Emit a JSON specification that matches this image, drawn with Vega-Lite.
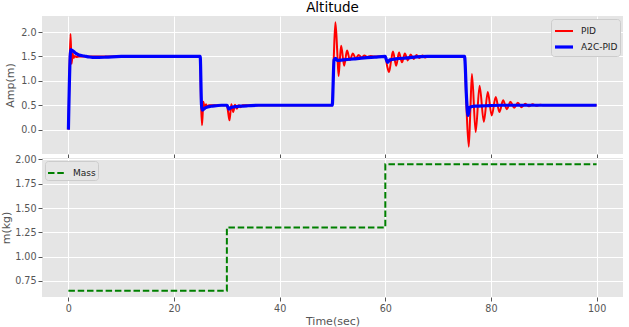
{
  "$schema": "https://vega.github.io/schema/vega-lite/v6.json",
  "background": "white",
  "padding": {"left": 0, "top": 0, "right": 6, "bottom": 0},
  "spacing": 4,
  "bounds": "flush",
  "config": {
    "font": "DejaVu Sans",
    "view": {"fill": "#E5E5E5", "stroke": null},
    "axis": {
      "domain": false,
      "grid": true,
      "gridColor": "#FFFFFF",
      "gridWidth": 1,
      "tickColor": "#555555",
      "tickSize": 4,
      "labelPadding": 2,
      "labelFont": "DejaVu Sans",
      "labelFontSize": 9.6,
      "labelColor": "#555555",
      "titleFont": "DejaVu Sans",
      "titleFontSize": 11,
      "titleFontWeight": "normal",
      "titleColor": "#555555"
    },
    "legend": {
      "title": null,
      "fillColor": "#E5E5E5",
      "strokeColor": "#CCCCCC",
      "cornerRadius": 3,
      "padding": 2,
      "offset": 3,
      "labelFont": "DejaVu Sans",
      "labelFontSize": 9,
      "labelColor": "#222222",
      "symbolType": "stroke",
      "symbolSize": 324,
      "labelOffset": 6,
      "rowPadding": -7
    },
    "title": {"font": "DejaVu Sans", "fontSize": 13.5, "fontWeight": "normal", "color": "#000000", "offset": 2}
  },
  "vconcat": [
    {
      "width": 581,
      "height": 138,
      "title": {"text": "Altitude", "anchor": "middle"},
      "data": {
        "values": [
          {"t": 0, "v": 0, "series": "PID"},
          {"t": 0.2, "v": 1.2, "series": "PID"},
          {"t": 0.4, "v": 1.96, "series": "PID"},
          {"t": 0.6, "v": 1.35, "series": "PID"},
          {"t": 0.8, "v": 1.56, "series": "PID"},
          {"t": 1.0, "v": 1.47, "series": "PID"},
          {"t": 1.2, "v": 1.51, "series": "PID"},
          {"t": 1.5, "v": 1.49, "series": "PID"},
          {"t": 2, "v": 1.5, "series": "PID"},
          {"t": 24.95, "v": 1.5, "series": "PID"},
          {"t": 25.1, "v": 0.6, "series": "PID"},
          {"t": 25.3, "v": 0.09, "series": "PID"},
          {"t": 25.55, "v": 0.57, "series": "PID"},
          {"t": 25.8, "v": 0.42, "series": "PID"},
          {"t": 26.05, "v": 0.52, "series": "PID"},
          {"t": 26.3, "v": 0.47, "series": "PID"},
          {"t": 26.6, "v": 0.5, "series": "PID"},
          {"t": 30.0, "v": 0.5, "series": "PID"},
          {"t": 30.25, "v": 0.35, "series": "PID"},
          {"t": 30.5, "v": 0.19, "series": "PID"},
          {"t": 30.85, "v": 0.52, "series": "PID"},
          {"t": 31.2, "v": 0.36, "series": "PID"},
          {"t": 31.55, "v": 0.51, "series": "PID"},
          {"t": 31.9, "v": 0.43, "series": "PID"},
          {"t": 32.25, "v": 0.5, "series": "PID"},
          {"t": 32.6, "v": 0.46, "series": "PID"},
          {"t": 33, "v": 0.5, "series": "PID"},
          {"t": 49.95, "v": 0.5, "series": "PID"},
          {"t": 50.25, "v": 1.5, "series": "PID"},
          {"t": 50.55, "v": 2.2, "series": "PID"},
          {"t": 50.9, "v": 1.6, "series": "PID"},
          {"t": 51.15, "v": 1.1, "series": "PID"},
          {"t": 51.4, "v": 1.45, "series": "PID"},
          {"t": 51.65, "v": 1.72, "series": "PID"},
          {"t": 52.2, "v": 1.31, "series": "PID"},
          {"t": 52.75, "v": 1.62, "series": "PID"},
          {"t": 53.3, "v": 1.43, "series": "PID"},
          {"t": 53.85, "v": 1.56, "series": "PID"},
          {"t": 54.4, "v": 1.46, "series": "PID"},
          {"t": 54.95, "v": 1.53, "series": "PID"},
          {"t": 55.5, "v": 1.48, "series": "PID"},
          {"t": 56.05, "v": 1.52, "series": "PID"},
          {"t": 56.6, "v": 1.49, "series": "PID"},
          {"t": 57.2, "v": 1.51, "series": "PID"},
          {"t": 57.8, "v": 1.5, "series": "PID"},
          {"t": 60.0, "v": 1.5, "series": "PID"},
          {"t": 60.35, "v": 1.3, "series": "PID"},
          {"t": 60.7, "v": 1.18, "series": "PID"},
          {"t": 61.1, "v": 1.42, "series": "PID"},
          {"t": 61.45, "v": 1.6, "series": "PID"},
          {"t": 62.05, "v": 1.31, "series": "PID"},
          {"t": 62.6, "v": 1.58, "series": "PID"},
          {"t": 63.15, "v": 1.38, "series": "PID"},
          {"t": 63.7, "v": 1.56, "series": "PID"},
          {"t": 64.25, "v": 1.42, "series": "PID"},
          {"t": 64.8, "v": 1.54, "series": "PID"},
          {"t": 65.35, "v": 1.45, "series": "PID"},
          {"t": 65.9, "v": 1.53, "series": "PID"},
          {"t": 66.45, "v": 1.47, "series": "PID"},
          {"t": 67.0, "v": 1.52, "series": "PID"},
          {"t": 67.55, "v": 1.48, "series": "PID"},
          {"t": 68.1, "v": 1.51, "series": "PID"},
          {"t": 68.65, "v": 1.49, "series": "PID"},
          {"t": 69.2, "v": 1.5, "series": "PID"},
          {"t": 75.0, "v": 1.5, "series": "PID"},
          {"t": 75.35, "v": 0.5, "series": "PID"},
          {"t": 75.8, "v": -0.35, "series": "PID"},
          {"t": 76.1, "v": 0.4, "series": "PID"},
          {"t": 76.4, "v": 1.14, "series": "PID"},
          {"t": 77.1, "v": -0.05, "series": "PID"},
          {"t": 77.85, "v": 0.9, "series": "PID"},
          {"t": 78.65, "v": 0.16, "series": "PID"},
          {"t": 79.4, "v": 0.77, "series": "PID"},
          {"t": 80.15, "v": 0.29, "series": "PID"},
          {"t": 80.9, "v": 0.67, "series": "PID"},
          {"t": 81.6, "v": 0.36, "series": "PID"},
          {"t": 82.3, "v": 0.6, "series": "PID"},
          {"t": 83.0, "v": 0.42, "series": "PID"},
          {"t": 83.7, "v": 0.57, "series": "PID"},
          {"t": 84.4, "v": 0.45, "series": "PID"},
          {"t": 85.1, "v": 0.55, "series": "PID"},
          {"t": 85.8, "v": 0.46, "series": "PID"},
          {"t": 86.5, "v": 0.53, "series": "PID"},
          {"t": 87.2, "v": 0.48, "series": "PID"},
          {"t": 87.9, "v": 0.52, "series": "PID"},
          {"t": 88.6, "v": 0.49, "series": "PID"},
          {"t": 89.3, "v": 0.51, "series": "PID"},
          {"t": 90, "v": 0.5, "series": "PID"},
          {"t": 100, "v": 0.5, "series": "PID"},
          {"t": 0, "v": 0, "series": "A2C-PID"},
          {"t": 0.45, "v": 1.64, "series": "A2C-PID"},
          {"t": 0.6, "v": 1.63, "series": "A2C-PID"},
          {"t": 1, "v": 1.6, "series": "A2C-PID"},
          {"t": 1.5, "v": 1.56, "series": "A2C-PID"},
          {"t": 2, "v": 1.53, "series": "A2C-PID"},
          {"t": 3, "v": 1.51, "series": "A2C-PID"},
          {"t": 4, "v": 1.49, "series": "A2C-PID"},
          {"t": 5, "v": 1.48, "series": "A2C-PID"},
          {"t": 7, "v": 1.485, "series": "A2C-PID"},
          {"t": 10, "v": 1.5, "series": "A2C-PID"},
          {"t": 24.95, "v": 1.5, "series": "A2C-PID"},
          {"t": 25.2, "v": 0.5, "series": "A2C-PID"},
          {"t": 25.35, "v": 0.4, "series": "A2C-PID"},
          {"t": 25.6, "v": 0.42, "series": "A2C-PID"},
          {"t": 26, "v": 0.45, "series": "A2C-PID"},
          {"t": 27, "v": 0.48, "series": "A2C-PID"},
          {"t": 28, "v": 0.49, "series": "A2C-PID"},
          {"t": 29, "v": 0.5, "series": "A2C-PID"},
          {"t": 30.05, "v": 0.5, "series": "A2C-PID"},
          {"t": 30.35, "v": 0.42, "series": "A2C-PID"},
          {"t": 30.7, "v": 0.45, "series": "A2C-PID"},
          {"t": 31.5, "v": 0.47, "series": "A2C-PID"},
          {"t": 32.5, "v": 0.48, "series": "A2C-PID"},
          {"t": 34, "v": 0.49, "series": "A2C-PID"},
          {"t": 36, "v": 0.5, "series": "A2C-PID"},
          {"t": 49.95, "v": 0.5, "series": "A2C-PID"},
          {"t": 50.3, "v": 1.43, "series": "A2C-PID"},
          {"t": 50.6, "v": 1.46, "series": "A2C-PID"},
          {"t": 50.9, "v": 1.42, "series": "A2C-PID"},
          {"t": 52, "v": 1.43, "series": "A2C-PID"},
          {"t": 54, "v": 1.45, "series": "A2C-PID"},
          {"t": 56, "v": 1.47, "series": "A2C-PID"},
          {"t": 58, "v": 1.485, "series": "A2C-PID"},
          {"t": 60, "v": 1.5, "series": "A2C-PID"},
          {"t": 60.15, "v": 1.45, "series": "A2C-PID"},
          {"t": 60.4, "v": 1.38, "series": "A2C-PID"},
          {"t": 60.9, "v": 1.43, "series": "A2C-PID"},
          {"t": 62, "v": 1.45, "series": "A2C-PID"},
          {"t": 64, "v": 1.47, "series": "A2C-PID"},
          {"t": 66, "v": 1.49, "series": "A2C-PID"},
          {"t": 68, "v": 1.5, "series": "A2C-PID"},
          {"t": 75.0, "v": 1.5, "series": "A2C-PID"},
          {"t": 75.4, "v": 0.6, "series": "A2C-PID"},
          {"t": 75.65, "v": 0.29, "series": "A2C-PID"},
          {"t": 76.0, "v": 0.46, "series": "A2C-PID"},
          {"t": 77, "v": 0.48, "series": "A2C-PID"},
          {"t": 79, "v": 0.49, "series": "A2C-PID"},
          {"t": 82, "v": 0.5, "series": "A2C-PID"},
          {"t": 100, "v": 0.5, "series": "A2C-PID"}
        ]
      },
      "mark": {"type": "line", "interpolate": "monotone"},
      "encoding": {
        "x": {"field": "t", "type": "quantitative", "scale": {"domain": [-5, 105], "nice": false, "zero": false},
              "axis": {"values": [0, 20, 40, 60, 80, 100], "labels": false, "title": null}},
        "y": {"field": "v", "type": "quantitative", "scale": {"domain": [-0.5, 2.33], "nice": false, "zero": false},
              "axis": {"values": [0, 0.5, 1, 1.5, 2], "format": ".1f", "title": "Amp(m)", "titlePadding": 5}},
        "color": {"field": "series", "type": "nominal", "scale": {"domain": ["PID", "A2C-PID"], "range": ["#FF0000", "#0000FF"]},
                  "legend": {"orient": "top-right"}},
        "strokeWidth": {"field": "series", "type": "nominal", "scale": {"domain": ["PID", "A2C-PID"], "range": [2, 3.2]},
                  "legend": {"orient": "top-right"}}
      }
    },
    {
      "width": 581,
      "height": 139,
      "data": {
        "values": [
          {"t": 0, "m": 0.65, "series": "Mass"},
          {"t": 30, "m": 1.3, "series": "Mass"},
          {"t": 60, "m": 1.95, "series": "Mass"},
          {"t": 100, "m": 1.95, "series": "Mass"}
        ]
      },
      "mark": {"type": "line", "interpolate": "step-after", "strokeWidth": 2, "strokeDash": [6.5, 2.8]},
      "encoding": {
        "x": {"field": "t", "type": "quantitative", "scale": {"domain": [-5, 105], "nice": false, "zero": false},
              "axis": {"values": [0, 20, 40, 60, 80, 100], "title": "Time(sec)", "titlePadding": 3}},
        "y": {"field": "m", "type": "quantitative", "scale": {"domain": [0.585, 2.015], "nice": false, "zero": false},
              "axis": {"values": [0.75, 1, 1.25, 1.5, 1.75, 2], "format": ".2f", "title": "m(kg)", "titlePadding": 3}},
        "color": {"field": "series", "type": "nominal", "scale": {"domain": ["Mass"], "range": ["#008000"]},
                  "legend": {"orient": "top-left", "symbolDash": [6.5, 2.8], "symbolStrokeWidth": 2}}
      }
    }
  ],
  "resolve": {"scale": {"color": "independent", "strokeWidth": "independent", "x": "shared"}}
}
